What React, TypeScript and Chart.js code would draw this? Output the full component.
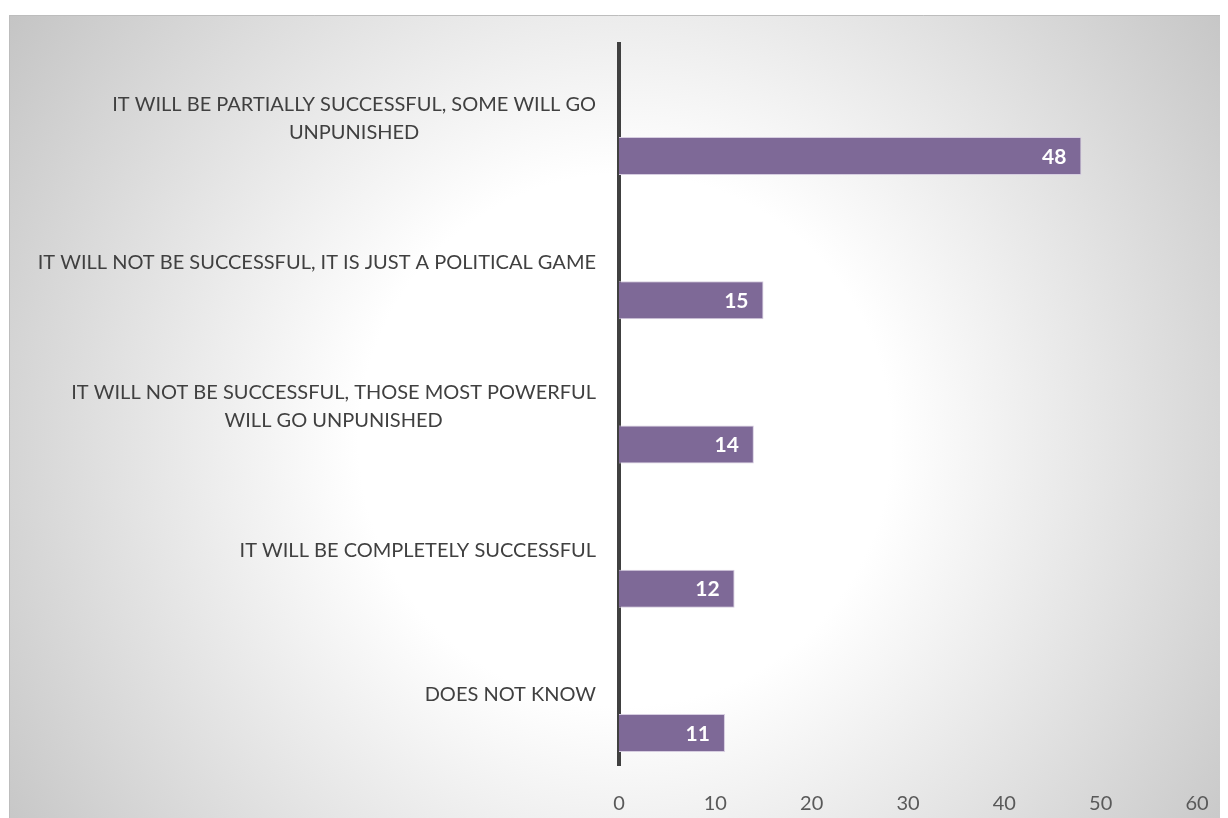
import React, { useEffect, useRef } from "react";
import { Chart, registerables } from "chart.js";

Chart.register(...registerables);

const categories: string[][] = [
  ["IT WILL BE PARTIALLY SUCCESSFUL, SOME WILL GO", "UNPUNISHED"],
  ["IT WILL NOT BE SUCCESSFUL, IT IS JUST A POLITICAL GAME"],
  ["IT WILL NOT BE SUCCESSFUL, THOSE MOST POWERFUL", "WILL GO UNPUNISHED"],
  ["IT WILL BE COMPLETELY SUCCESSFUL"],
  ["DOES NOT KNOW"],
];
const values: number[] = [48, 15, 14, 12, 11];
const spacer: (number | null)[] = [null, null, null, null, null];
const xTickMin = 0;
const xTickMax = 60;
const xTickStep = 10;

const FONT = "Lato";
const FONT_SIZE = 20;

const bgPlugin = {
  id: "bgPlugin",
  beforeDraw(chart: any) {
    const { ctx, width, height } = chart;
    ctx.save();
    ctx.fillStyle = "#ffffff";
    ctx.fillRect(0, 0, width, height);
    const cx = 617;
    const cy = 432;
    const g = ctx.createRadialGradient(cx, cy, 0, cx, cy, 760);
    g.addColorStop(0, "#ffffff");
    g.addColorStop(0.35, "#ffffff");
    g.addColorStop(1, "#c3c3c3");
    ctx.fillStyle = g;
    ctx.fillRect(1, 7, width - 1, height - 7);
    ctx.strokeStyle = "#bdbdbd";
    ctx.lineWidth = 1;
    ctx.beginPath();
    ctx.moveTo(1.5, height);
    ctx.lineTo(1.5, 7.5);
    ctx.lineTo(width, 7.5);
    ctx.stroke();
    ctx.restore();
  },
};

const labelPlugin = {
  id: "labelPlugin",
  afterDatasetsDraw(chart: any) {
    const { ctx, chartArea } = chart;
    const yScale = chart.scales.y;
    ctx.save();
    ctx.font = `${FONT_SIZE}px ${FONT}`;
    ctx.fillStyle = "#404040";
    ctx.textAlign = "center";
    ctx.textBaseline = "middle";
    const lineH = 28;
    const right = chartArea.left - 23;
    categories.forEach((lines, i) => {
      const yc = yScale.getPixelForValue(i) + 2;
      const w = Math.max(...lines.map((l) => ctx.measureText(l).width));
      const xc = right - w / 2;
      const y0 = yc - ((lines.length - 1) * lineH) / 2;
      lines.forEach((l, k) => ctx.fillText(l, xc, y0 + k * lineH));
    });
    const meta = chart.getDatasetMeta(1);
    ctx.font = `bold ${FONT_SIZE + 1}px ${FONT}`;
    ctx.fillStyle = "#ffffff";
    ctx.textAlign = "right";
    meta.data.forEach((bar: any, i: number) => {
      ctx.fillText(String(values[i]), bar.x - 15, bar.y + 1);
    });
    ctx.restore();
  },
};

export default function App() {
  const ref = useRef<HTMLCanvasElement | null>(null);
  useEffect(() => {
    if (!ref.current) return;
    const chart = new Chart(ref.current, {
      type: "bar",
      data: {
        labels: categories.map((c) => c.join(" ")),
        datasets: [
          {
            data: spacer,
            backgroundColor: "rgba(0,0,0,0)",
            categoryPercentage: 1.11,
            barPercentage: 0.475,
          },
          {
            data: values,
            backgroundColor: "#7e6997",
            borderColor: "#d6cde0",
            borderWidth: 1,
            categoryPercentage: 1.11,
            barPercentage: 0.475,
          },
        ],
      },
      options: {
        indexAxis: "y",
        responsive: false,
        animation: false,
        layout: { padding: { top: 36, right: 31, left: 0, bottom: 0 } },
        plugins: {
          legend: { display: false },
          tooltip: { enabled: false },
        },
        scales: {
          x: {
            min: xTickMin,
            max: xTickMax,
            grid: { display: false, drawTicks: true, tickLength: 24 },
            border: { display: false },
            ticks: {
              stepSize: xTickStep,
              color: "#595959",
              font: { family: FONT, size: FONT_SIZE },
              padding: 3,
            },
            afterFit: (s: any) => {
              s.height = 53;
            },
          },
          y: {
            grid: { display: false, drawTicks: false },
            border: { display: true, width: 4, color: "#404040" },
            ticks: { display: false },
            afterFit: (s: any) => {
              s.width = 611;
            },
          },
        },
      },
      plugins: [bgPlugin, labelPlugin],
    });
    return () => chart.destroy();
  }, []);
  return (
    <canvas
      ref={ref}
      width={1220}
      height={810}
      style={{ display: "block", width: 1220, height: 810 }}
    />
  );
}
